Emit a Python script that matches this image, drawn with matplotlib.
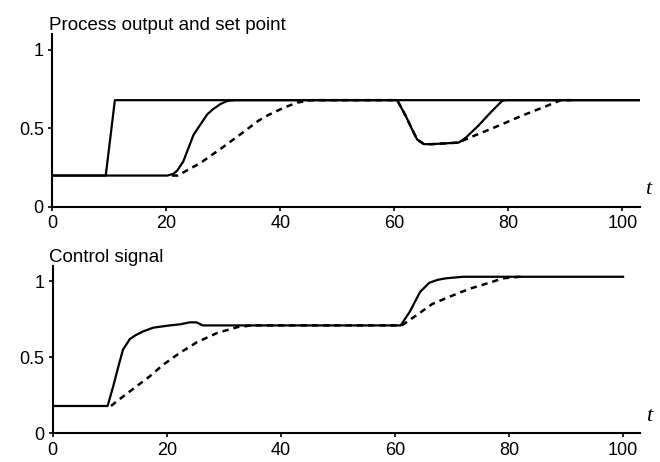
import matplotlib
matplotlib.use("Agg")
import matplotlib.pyplot as plt

plt.rcParams['font.family'] = ['Liberation Sans', 'DejaVu Sans']

# ---- Top panel: process output and set point ----
t_sp = [0, 9.4, 11, 103]
y_sp = [0.2, 0.2, 0.68, 0.68]

t_out = [0, 20.2, 21.2, 21.9, 23.0, 23.9, 24.8, 26.0, 27.2, 28.3, 29.5, 30.7, 32,
         60.5, 62, 63.1, 64, 65.2, 66.6, 71.3, 72.5, 74.8, 77.1, 78.9, 79.5, 103]
y_out = [0.2, 0.2, 0.21, 0.23, 0.29, 0.375, 0.46, 0.525, 0.59, 0.625, 0.655, 0.675, 0.68,
         0.68, 0.58, 0.495, 0.43, 0.40, 0.40, 0.41, 0.44, 0.52, 0.61, 0.675, 0.68, 0.68]

t_out_d = [21, 22, 26, 29.8, 33.3, 36.2, 37.9, 40.5, 43, 45.5,
           60.5, 62, 63.1, 64, 65.2, 66.6, 71.3, 73.1, 77.8, 82.3, 86.5, 89.2, 91]
y_out_d = [0.2, 0.2, 0.28, 0.377, 0.47, 0.55, 0.585, 0.63, 0.665, 0.68,
           0.68, 0.58, 0.495, 0.43, 0.40, 0.40, 0.41, 0.44, 0.51, 0.58, 0.64, 0.68, 0.68]

# ---- Bottom panel: control signal ----
t_u = [0, 9.6, 10.6, 11.5, 12.3, 13.5, 14.5, 15.8, 17.6, 20.5, 22.3, 24, 25.2, 26.3, 29.3,
       61, 62.6, 64.4, 66, 67.5, 69, 72, 100]
y_u = [0.18, 0.18, 0.31, 0.44, 0.55, 0.62, 0.645, 0.67, 0.695, 0.71, 0.717, 0.73, 0.73,
       0.71, 0.71, 0.71, 0.8, 0.93, 0.99, 1.01, 1.02, 1.03, 1.03]

t_u_d = [10.2, 11.2, 14, 17, 19.3, 22.3, 25.3, 28.8, 32.5, 35, 61.2, 63.9, 66.5, 69,
         73, 76.5, 79, 82]
y_u_d = [0.18, 0.21, 0.29, 0.375, 0.45, 0.53, 0.60, 0.66, 0.70, 0.71, 0.71, 0.78, 0.85,
         0.89, 0.95, 0.99, 1.02, 1.03]

xticks = [0, 20, 40, 60, 80, 100]
yticks = [0, 0.5, 1]
yticklabels = ['0', '0.5', '1']

fig = plt.figure(figsize=(6.6, 4.62), dpi=100)
ax1 = fig.add_axes([0.079, 0.552, 0.89, 0.374])
ax2 = fig.add_axes([0.080, 0.062, 0.89, 0.362])

lw = 1.6
for ax, title in [(ax1, 'Process output and set point'), (ax2, 'Control signal')]:
    ax.set_xlim(0, 103)
    ax.set_ylim(0, 1.1)
    for s in ['top', 'right']:
        ax.spines[s].set_visible(False)
    for s in ['left', 'bottom']:
        ax.spines[s].set_linewidth(1.5)
    ax.set_xticks(xticks)
    ax.set_yticks(yticks)
    ax.set_yticklabels(yticklabels)
    ax.tick_params(direction='out', length=3, width=1.2, labelsize=13, pad=3)
    ax.set_title(title, loc='left', fontsize=13.5, pad=3, x=-0.006)
    ax.text(104.5, 0.11, 't', fontstyle='italic', fontsize=16, ha='center',
            va='center', clip_on=False, family=['Liberation Serif', 'DejaVu Serif'])

ax1.plot(t_out_d, y_out_d, color='black', lw=lw + 0.2, ls=(0, (2.5, 2)))
ax1.plot(t_out, y_out, color='black', lw=lw)
ax1.plot(t_sp, y_sp, color='black', lw=lw)

ax2.plot(t_u_d, y_u_d, color='black', lw=lw + 0.2, ls=(0, (2.5, 2)))
ax2.plot(t_u, y_u, color='black', lw=lw)

fig.savefig('out.png', dpi=100)
